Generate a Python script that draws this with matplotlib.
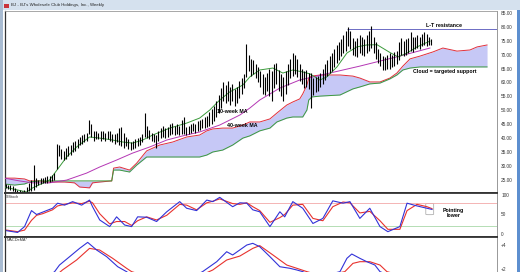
import numpy as np
import matplotlib.pyplot as plt
from matplotlib.patches import Rectangle, FancyBboxPatch

plt.rcParams['font.family'] = ['Liberation Sans', 'DejaVu Sans']

# ---- weekly price bars (high / low) ----
highs = [23.6, 23.2, 23.0, 22.6, 22.0, 21.5, 21.2, 21.0, 21.5, 22.5,
         24.0, 25.0, 30.5, 25.5, 25.0, 25.5, 25.8, 26.0, 26.3, 26.5,
         26.8, 27.5, 38.0, 37.5, 36.0, 35.5, 36.5, 37.0, 37.5, 38.5,
         39.0, 39.5, 40.5, 41.0, 41.5, 42.0, 46.5, 45.0, 42.5, 42.5,
         42.0, 42.5, 42.5, 42.0, 42.5, 42.5, 41.5, 41.5, 42.0, 43.5,
         44.0, 42.0, 40.5, 39.5, 38.5, 39.0, 39.5, 40.0, 40.5, 41.5,
         49.0, 44.5, 43.0, 42.0, 41.5, 41.0, 42.5, 43.5, 44.5, 43.5,
         44.0, 45.0, 45.5, 44.5, 45.0, 44.5, 46.5, 47.5, 44.0, 44.5,
         45.0, 45.5, 45.0, 46.0, 46.5, 47.0, 47.5, 48.0, 49.5, 50.5,
         51.5, 53.5, 55.5, 58.0, 60.0, 59.0, 60.5, 58.5, 59.5, 57.5,
         58.5, 60.5, 61.5, 63.0, 74.0, 70.0, 68.5, 68.0, 66.5, 65.5,
         64.0, 63.0, 62.0, 63.5, 65.0, 64.0, 66.5, 67.0, 64.5, 63.0,
         62.0, 64.0, 66.5, 68.5, 70.5, 70.0, 68.5, 66.5, 65.0, 64.0,
         64.5, 63.5, 63.5, 61.5, 62.0, 62.5, 63.5, 65.0, 66.5, 68.0,
         69.5, 70.5, 72.0, 73.5, 74.5, 75.5, 77.0, 78.5, 80.0, 78.5,
         76.0, 75.0, 76.0, 77.0, 76.5, 75.5, 77.0, 78.5, 80.3, 76.5,
         74.5, 72.0, 70.5, 69.5, 69.0, 70.0, 70.5, 70.0, 71.0, 71.5,
         74.5, 76.0, 75.0, 75.5, 76.0, 78.0, 76.5, 76.5, 77.0, 76.5,
         77.5, 78.0, 77.5, 76.5, 75.8]
lows = [22.0, 21.8, 21.5, 21.0, 20.5, 20.0, 19.8, 19.5, 19.8, 20.2,
        20.8, 21.0, 21.5, 22.5, 23.0, 23.5, 23.8, 24.0, 24.0, 24.3,
        24.5, 25.0, 29.0, 33.5, 32.5, 32.0, 32.5, 33.5, 34.0, 35.0,
        35.5, 36.5, 37.5, 38.0, 38.5, 39.0, 41.5, 40.5, 39.0, 39.5,
        39.5, 39.0, 39.5, 39.0, 39.5, 39.0, 38.5, 38.0, 38.5, 37.5,
        37.0, 36.5, 37.0, 36.0, 35.8, 36.2, 36.5, 37.0, 37.5, 38.5,
        40.5, 40.0, 39.5, 39.0, 38.5, 36.5, 39.0, 40.0, 40.5, 40.0,
        40.5, 41.0, 41.5, 41.0, 41.5, 41.0, 41.5, 41.5, 41.0, 41.5,
        42.0, 42.5, 42.0, 42.5, 43.0, 43.5, 43.5, 44.0, 44.5, 45.0,
        46.0, 47.5, 49.0, 51.0, 53.5, 52.5, 53.5, 52.0, 53.5, 51.5,
        52.5, 54.5, 56.0, 58.0, 62.0, 64.0, 62.5, 63.0, 61.5, 60.0,
        58.5, 56.0, 55.5, 57.0, 55.0, 53.5, 58.0, 59.5, 57.0, 55.0,
        53.5, 56.0, 59.0, 61.5, 62.5, 63.0, 62.0, 60.5, 59.5, 58.0,
        58.5, 57.5, 51.0, 55.5, 56.5, 57.0, 58.5, 59.5, 61.0, 62.5,
        63.5, 64.0, 65.5, 67.0, 68.0, 69.5, 70.5, 71.5, 73.0, 72.0,
        70.0, 69.5, 69.0, 70.5, 70.0, 69.5, 70.5, 71.5, 72.5, 70.5,
        68.5, 67.0, 66.0, 64.5, 64.5, 65.0, 64.8, 65.5, 66.0, 66.5,
        68.0, 70.0, 69.5, 70.0, 70.5, 71.5, 71.0, 72.0, 72.5, 72.0,
        73.0, 73.5, 73.0, 73.5, 73.5]

# ---- moving averages (week, price) ----
ma10_w = [0.4, 10, 12.6, 19.9, 27.3, 31.6, 37.2, 41.6, 47.2, 51.5, 55.8, 60.2, 64.5,
          71.9, 79.2, 84.8, 89.2, 93.5, 97.8, 103.5, 106.5, 110.8, 116.5, 120.8,
          125.1, 129.4, 132.5, 136.8, 139.8, 144.2, 148.5, 152.8, 157.1, 161.5,
          167.1, 170.6, 174.5, 178.8, 184.4]
ma10_v = [22.4, 20.6, 22.1, 24.9, 33.2, 36.8, 40.4, 40.0, 39.3, 38.6, 38.2, 39.3, 41.1,
          43.6, 45.4, 47.2, 50.1, 53.7, 56.6, 59.1, 62.0, 64.5, 65.2, 63.4,
          64.5, 63.8, 63.1, 60.9, 62.0, 65.6, 70.6, 72.8, 73.5, 73.6,
          70.8, 69.2, 70.6, 72.8, 74.9]
ma40_w = [0.4, 6.9, 12.6, 19.9, 27.3, 35.9, 41.6, 48.9, 55.8, 63.2, 70.6, 77.5,
          84.8, 93.5, 102.2, 106.5, 110.8, 119.5, 128.1, 141.1, 154.1, 171.4, 184.4]
ma40_v = [25.6, 24.6, 23.9, 23.9, 24.9, 27.4, 29.6, 32.1, 34.6, 36.8, 39.3, 40.8,
          42.2, 44.7, 48.3, 50.8, 53.7, 58.0, 60.9, 63.4, 65.9, 69.5, 72.4]

# ---- Ichimoku cloud (week, upper red, lower green) ----
cloud_w = [0.4, 4.8, 9.1, 11.3, 15.6, 19.9, 26.4, 30.7, 32.9, 37.2, 38.5, 41.6, 46.8,
           47.6, 50.2, 54.5, 57.6, 61.9, 67.5, 73.2, 79.2, 84.8, 87.9, 90.5, 94.8,
           99.1, 103.5, 106.5, 110.8, 115.2, 118.2, 122.5, 125.1, 128.1, 129.4,
           131.2, 132.0, 133.3, 136.8, 145.5, 151.1, 154.1, 158.4, 162.8, 167.1,
           170.1, 172.7, 175.8, 180.1, 185.7, 190.0, 196.1, 201.7, 204.8, 209.1]
cloud_a = [25.6, 25.6, 25.3, 24.6, 24.6, 24.2, 24.2, 23.9, 22.4, 22.1, 23.9, 24.2, 24.6,
           29.2, 29.6, 28.5, 31.0, 35.4, 37.5, 38.6, 40.4, 41.1, 42.6, 43.3, 43.6,
           43.6, 44.7, 45.8, 45.8, 46.9, 49.0, 51.9, 53.0, 54.1, 55.9,
           59.1, 61.6, 62.3, 62.7, 62.7, 62.3, 61.6, 60.2, 60.2, 61.6,
           63.4, 65.9, 68.5, 69.5, 71.0, 72.4, 71.3, 71.7, 72.8, 73.5]
cloud_b = [23.5, 23.1, 23.5, 24.2, 24.6, 24.6, 24.6, 24.6, 24.6, 24.6, 24.6, 24.6, 24.6,
           28.5, 28.5, 27.8, 30.3, 33.2, 33.2, 33.2, 33.2, 33.2, 33.9, 35.0, 35.7,
           37.5, 40.0, 40.8, 42.6, 43.6, 45.8, 47.2, 47.6, 47.6, 47.6,
           50.1, 53.7, 54.8, 55.1, 55.5, 57.7, 58.4, 59.5, 59.8, 61.3,
           62.7, 64.5, 65.2, 65.6, 65.6, 65.6, 65.6, 65.6, 65.6, 65.6]

# ---- slow stochastic ----
stoch_w = [1.3, 6.1, 9.1, 12.1, 14.3, 16.9, 21.2, 23.4, 26.4, 29.9, 33.8, 37.2, 38.5,
           41.6, 45.9, 48.9, 52.4, 55.4, 58.0, 61.9, 66.2, 70.6, 76.2, 79.2, 83.5,
           87.9, 90.5, 93.5, 99.1, 102.2, 105.2, 107.8, 110.8, 115.2, 119.5, 121.6,
           125.1, 129.4, 133.8, 138.1, 142.4, 146.8, 149.8, 154.1, 158.4, 162.8,
           166.2, 171.4, 174.5, 178.8, 183.1, 185.3]
stoch_k = [8.5, 4, 19, 60, 50, 56, 66, 79, 74, 83, 74, 87, 70,
           36, 19, 44, 23, 19, 44, 43, 32, 57, 83, 66, 60,
           87, 83, 94, 70, 80, 79, 62, 57, 19, 57, 44,
           83, 66, 27, 40, 85, 79, 83, 40, 66, 19,
           6, 19, 79, 72, 66, 63]
stoch_d = [10, 6, 10, 35, 48, 52, 62, 72, 76, 80, 78, 84, 80,
           52, 26, 32, 32, 22, 34, 44, 36, 48, 76, 74, 62,
           80, 84, 90, 78, 76, 80, 70, 60, 30, 42, 50,
           74, 76, 40, 34, 70, 82, 80, 54, 58, 34,
           12, 12, 60, 76, 70, 65]

# ---- MACD ----
macd_w = [0, 10, 18, 22.1, 24.2, 28.6, 32.9, 36.4, 40.3, 44.6, 49.4, 53.2, 60, 70,
          80, 86.1, 92.2, 96.5, 99.1, 105.2, 107.8, 110.8, 115.2, 119.5, 123.8,
          126.8, 129.4, 135, 140, 145.5, 148.5, 150.6, 154.1, 157.1, 160.6, 162.8,
          170, 178, 184]
macd_v = [0.5, 0.3, 1.2, 1.78, 2.33, 3.03, 3.72, 4.22, 3.58, 3.03, 2.19, 1.78, 0.8, 0.6,
          1.2, 1.78, 2.61, 3.44, 3.17, 4.0, 4.14, 3.86, 3.03, 2.19, 2.06,
          1.92, 1.78, 1.2, 1.5, 1.78, 2.89, 3.25, 2.89, 2.61, 2.33, 1.78,
          1.2, 1.4, 1.5]
signal_w = [0, 20, 25.5, 31.6, 37.2, 41.6, 47.2, 53.2, 55.4, 65, 80, 90.5, 96.5,
            102.2, 107.8, 110.8, 116.5, 122.5, 126.8, 131.2, 138, 147.6, 151.1,
            154.1, 158.4, 162.8, 165.8, 175, 184]
signal_v = [0.4, 1.0, 1.92, 2.75, 3.72, 3.58, 2.89, 2.06, 1.78, 1.2, 1.0, 1.92, 2.75,
            3.08, 3.72, 3.95, 3.17, 2.33, 2.06, 1.78, 1.4, 1.78, 2.47,
            2.61, 2.61, 2.33, 1.78, 1.3, 1.35]

resistance = 79.2
resistance_start = 148.5
price_ticks = [25, 30, 35, 40, 45, 50, 55, 60, 65, 70, 75, 80, 85]

W, H = 520, 272
fig = plt.figure(figsize=(W / 100, H / 100), dpi=100)
fig.patch.set_facecolor('white')


def box(x0, y0, x1, y1):
    return [x0 / W, 1 - y1 / H, (x1 - x0) / W, (y1 - y0) / H]


# window chrome
fig.patches.append(Rectangle((0, 1 - 10 / H), 1, 10 / H, transform=fig.transFigure,
                             facecolor='#d5e1ee', edgecolor='none'))
fig.patches.append(Rectangle((0, 0), 3 / W, 1, transform=fig.transFigure,
                             facecolor='#a9bcd2', edgecolor='none'))
fig.patches.append(Rectangle((516.5 / W, 0), 3.5 / W, 1 - 10 / H, transform=fig.transFigure,
                             facecolor='#5d8fcf', edgecolor='none'))
fig.patches.append(Rectangle((4 / W, 1 - 7.5 / H), 5 / W, 4 / H, transform=fig.transFigure,
                             facecolor='#c8323a', edgecolor='none'))
fig.text(11 / W, 1 - 5.2 / H, "BJ - BJ's Wholesale Club Holdings, Inc., Weekly",
         fontsize=3.2, va='center', ha='left', color='#222')

ax_p = fig.add_axes(box(4.5, 11, 497, 192.5))
ax_s = fig.add_axes(box(4.5, 192.5, 497, 236.5))
ax_m = fig.add_axes(box(4.5, 236.5, 497, 272))

for ax in (ax_p, ax_s, ax_m):
    ax.set_xlim(0.43, 213.4)
    ax.set_xticks([])
    ax.yaxis.tick_right()
    ax.tick_params(axis='y', length=0, labelsize=3.4, labelcolor='#333', pad=3)
    for side in ('left', 'right', 'top', 'bottom'):
        ax.spines[side].set_color('#333')
        ax.spines[side].set_linewidth(0.6)
    ax.spines['right'].set_color('#888')
    ax.spines['left'].set_linewidth(0.9)

ax_p.spines['top'].set_color('#999')
ax_p.spines['bottom'].set_linewidth(1.3)
ax_s.spines['top'].set_linewidth(1.3)
ax_s.spines['bottom'].set_linewidth(1.3)
ax_m.spines['top'].set_linewidth(1.3)

# ---- price panel ----
weeks = np.arange(1, len(highs) + 1)
ax_p.fill_between(cloud_w, cloud_a, cloud_b, color='#c6c8f6', lw=0, zorder=1)
ax_p.plot(cloud_w, cloud_a, color='#e0303c', lw=0.7, zorder=2)
ax_p.plot(cloud_w, cloud_b, color='#3c9a3c', lw=0.7, zorder=2)
ax_p.plot(ma40_w, ma40_v, color='#b436b4', lw=0.7, zorder=3)
ax_p.plot(ma10_w, ma10_v, color='#3a9a3a', lw=0.7, zorder=3)
ax_p.vlines(weeks, lows, highs, color='black', lw=0.8, zorder=4)
ax_p.hlines(resistance, resistance_start, 213.4, color='#6c6cc4', lw=0.7, zorder=3)

ax_p.set_ylim(20.43, 85.72)
ax_p.set_yticks(price_ticks)
ax_p.set_yticklabels([f'{v:.2f}' for v in price_ticks])

lbl = dict(fontsize=3.8, fontweight='bold', color='black', zorder=6)
ax_p.text(182.5, 80.5, 'L-T resistance', ha='left', va='center', **lbl)
ax_p.text(191.0, 63.8, 'Cloud = targeted support', ha='center', va='center', **lbl)
ax_p.text(92.5, 49.4, '10-week MA', ha='left', va='center', **lbl)
ax_p.text(96.5, 44.6, '40-week MA', ha='left', va='center', **lbl)

# ---- stochastic panel ----
ax_s.axhline(80, color='#f2a8a8', lw=0.6)
ax_s.axhline(20, color='#a8d8a8', lw=0.6)
ax_s.plot(stoch_w, stoch_d, color='#e8322e', lw=0.8)
ax_s.plot(stoch_w, stoch_k, color='#3232d8', lw=0.8)
ax_s.set_ylim(-6.4, 106.4)
ax_s.set_yticks([0, 50, 100])
ax_s.set_yticklabels(['0', '50', '100'])
ax_s.text(1.2, 101, 'SlStoch', fontsize=2.8, color='#333', va='top')
ax_s.add_patch(FancyBboxPatch((183.0, 50), 2.6, 28, boxstyle='round,pad=0.4,rounding_size=1',
                              facecolor='none', edgecolor='#b0b0b0', lw=0.6))
ax_s.text(194.5, 53, 'Pointing\nlower', ha='center', va='center', linespacing=0.95,
          fontsize=3.8, fontweight='bold')

# ---- MACD panel ----
ax_m.plot(signal_w, signal_v, color='#e8322e', lw=0.8)
ax_m.plot(macd_w, macd_v, color='#3232d8', lw=0.8)
ax_m.set_ylim(1.75, 4.71)
ax_m.set_yticks([2, 4])
ax_m.set_yticklabels(['+2', '+4'])
ax_m.text(1.2, 4.6, 'MACDeMA*', fontsize=2.8, color='#333', va='top')

fig.savefig('out.png', dpi=100)
